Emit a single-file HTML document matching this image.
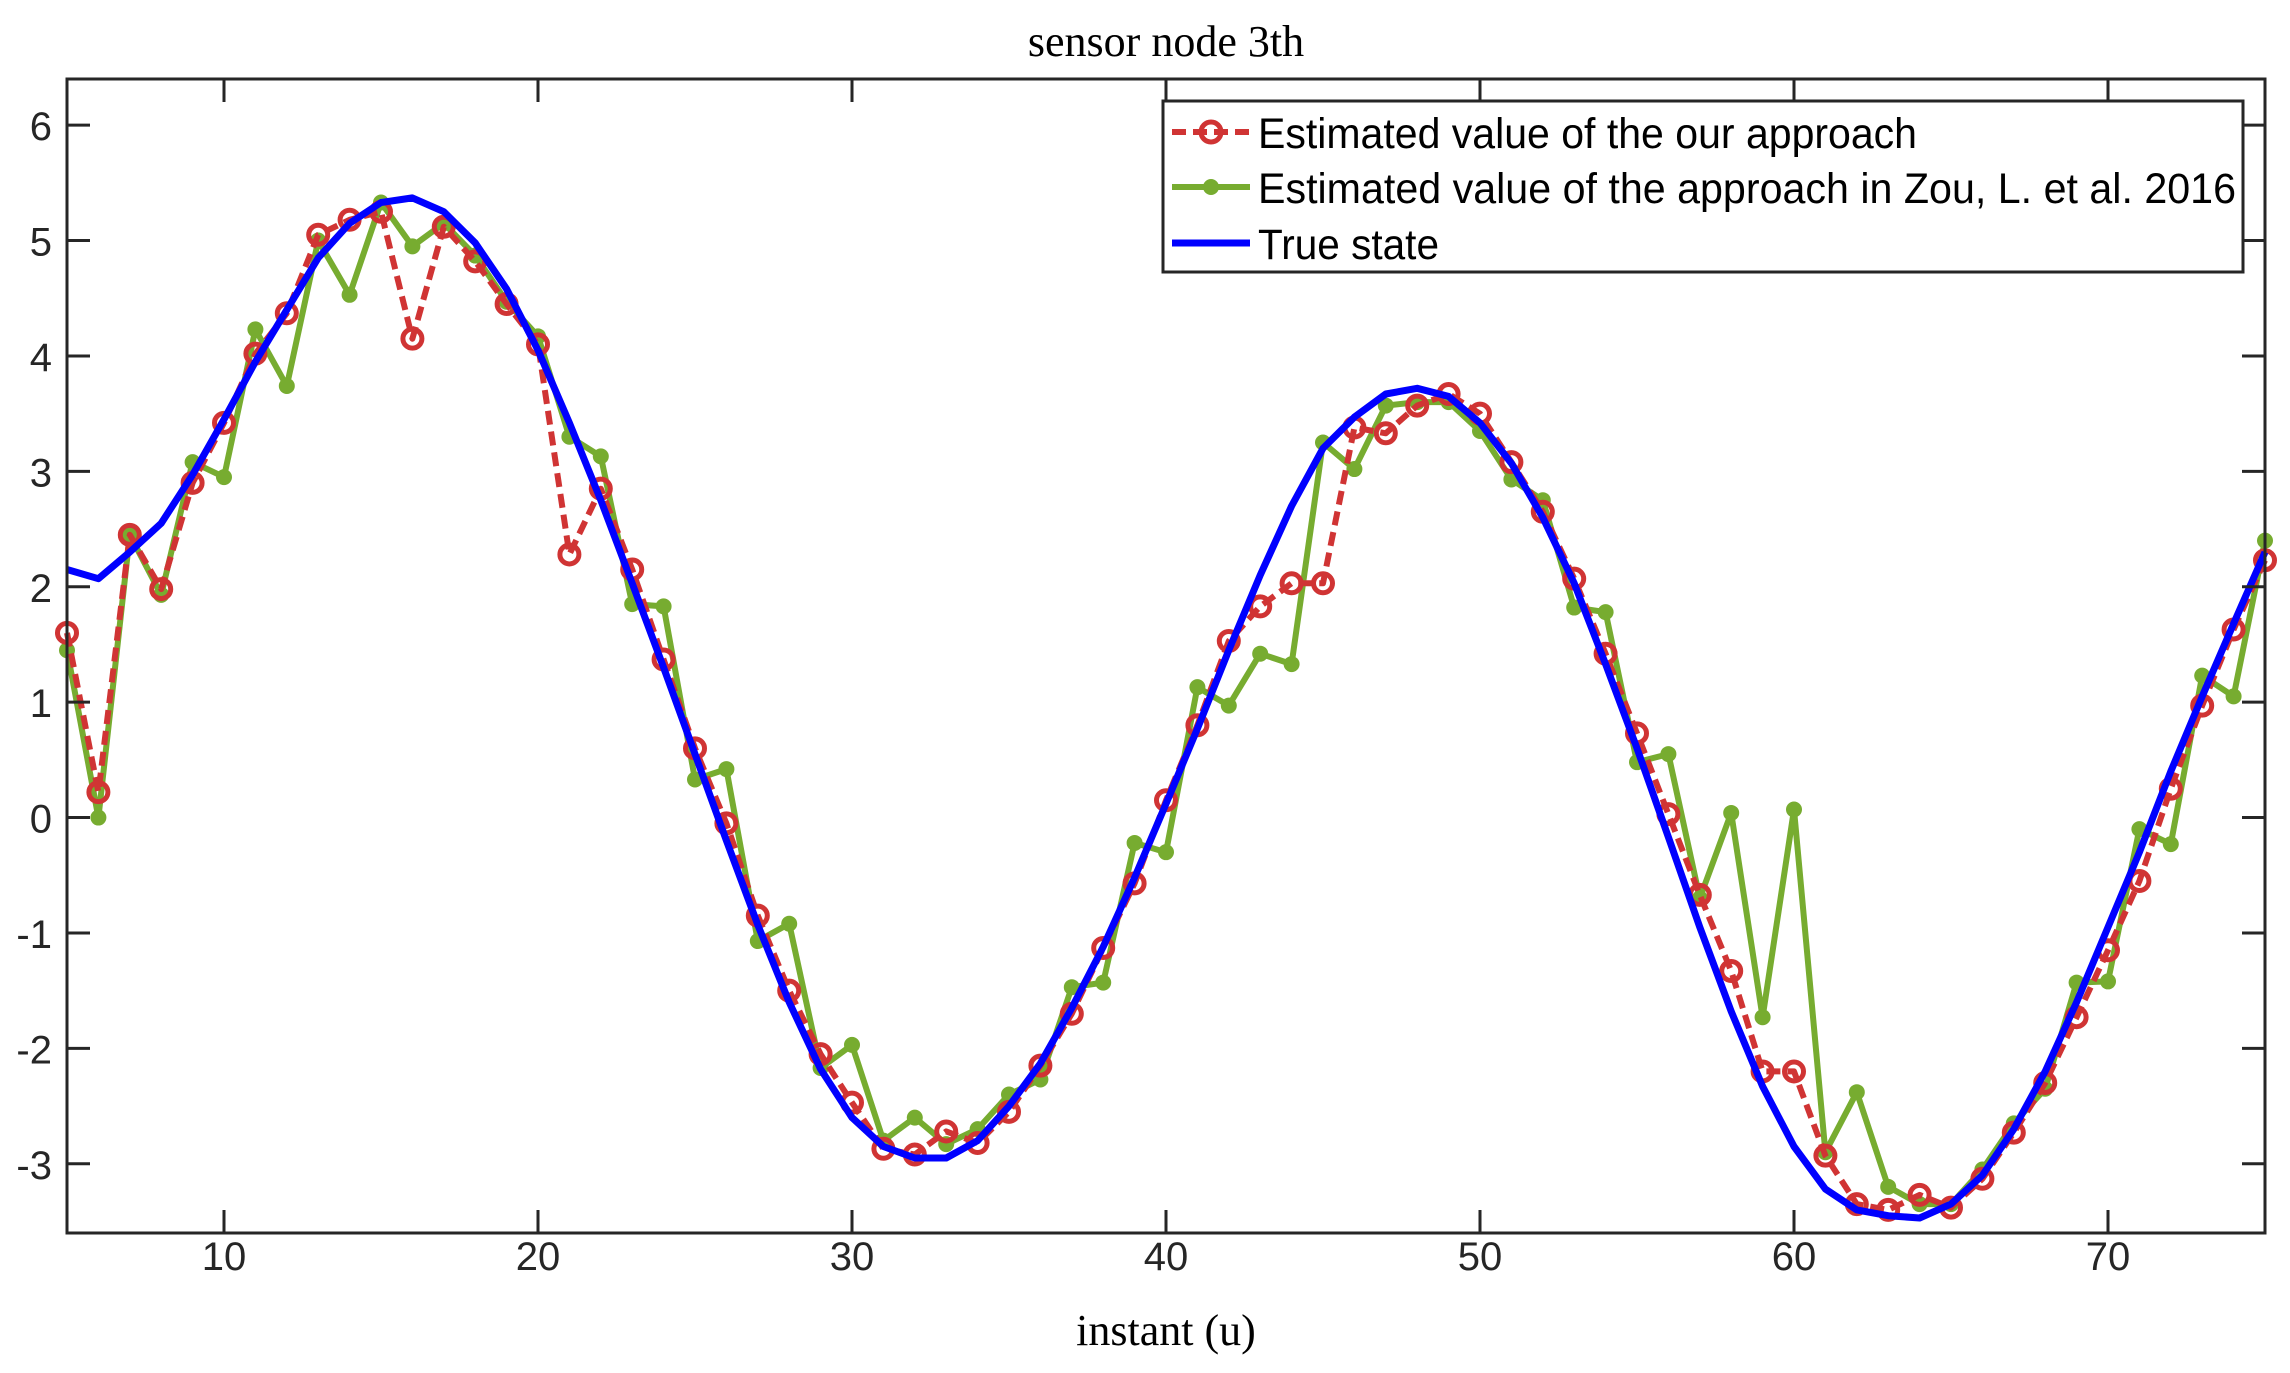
<!DOCTYPE html>
<html><head><meta charset="utf-8"><style>
html,body{margin:0;padding:0;background:#fff;}
svg{display:block;}
</style></head><body>
<svg id="chart" width="2290" height="1373" viewBox="0 0 2290 1373" xmlns="http://www.w3.org/2000/svg">
<rect width="2290" height="1373" fill="#fff"/>
<text x="1166" y="56" font-family="Liberation Serif, serif" font-size="44" text-anchor="middle" fill="#000">sensor node 3th</text>
<g id="grid"></g>
<g id="series"></g>
<rect x="67" y="79" width="2198" height="1154" fill="none" stroke="#262626" stroke-width="3"/>
<g id="axes"></g>
<text x="1166" y="1345" font-family="Liberation Serif, serif" font-size="44" text-anchor="middle" fill="#000">instant (u)</text>
<g>
<rect x="1163" y="101" width="1080" height="171" fill="#fff" stroke="#262626" stroke-width="3"/>
<g>
<line x1="1172" y1="132" x2="1250" y2="132" stroke="#d03434" stroke-width="6" stroke-dasharray="14,7"/>
<circle cx="1211" cy="132" r="10" fill="none" stroke="#d03434" stroke-width="5"/>
<text x="1258" y="148" font-family="Liberation Sans, sans-serif" font-size="43" textLength="659" lengthAdjust="spacingAndGlyphs" fill="#000">Estimated value of the our approach</text>
</g>
<g>
<line x1="1172" y1="187" x2="1250" y2="187" stroke="#77ac30" stroke-width="6"/>
<circle cx="1211" cy="187" r="8" fill="#77ac30"/>
<text x="1258" y="203" font-family="Liberation Sans, sans-serif" font-size="43" textLength="978" lengthAdjust="spacingAndGlyphs" fill="#000">Estimated value of the approach in Zou, L. et al. 2016</text>
</g>
<g>
<line x1="1172" y1="243" x2="1250" y2="243" stroke="#0000ff" stroke-width="7"/>
<text x="1258" y="259" font-family="Liberation Sans, sans-serif" font-size="43" textLength="181" lengthAdjust="spacingAndGlyphs" fill="#000">True state</text>
</g>
</g>
</svg>
<script>
const xStart = 5;
const ourValues = [1.6,0.22,2.45,1.98,2.9,3.42,4.02,4.37,5.05,5.18,5.25,4.15,5.12,4.82,4.45,4.1,2.28,2.85,2.15,1.37,0.6,-0.05,-0.85,-1.5,-2.05,-2.47,-2.87,-2.92,-2.72,-2.82,-2.55,-2.15,-1.7,-1.13,-0.57,0.15,0.8,1.53,1.83,2.03,2.03,3.38,3.33,3.57,3.67,3.5,3.08,2.65,2.07,1.42,0.73,0.03,-0.67,-1.33,-2.2,-2.2,-2.93,-3.35,-3.4,-3.27,-3.38,-3.13,-2.73,-2.3,-1.73,-1.15,-0.55,0.25,0.97,1.63,2.23];
const zouValues = [1.45,0.0,2.45,1.93,3.08,2.95,4.23,3.74,5.0,4.53,5.33,4.95,5.15,4.87,4.47,4.17,3.3,3.13,1.85,1.83,0.33,0.42,-1.07,-0.92,-2.17,-1.97,-2.8,-2.6,-2.83,-2.7,-2.4,-2.27,-1.47,-1.43,-0.22,-0.3,1.13,0.97,1.42,1.33,3.25,3.02,3.57,3.6,3.6,3.35,2.93,2.75,1.82,1.78,0.48,0.55,-0.7,0.04,-1.73,0.07,-2.9,-2.38,-3.2,-3.35,-3.35,-3.05,-2.65,-2.35,-1.43,-1.42,-0.1,-0.23,1.23,1.05,2.4];
const trueValues = [2.15,2.07,2.3,2.55,2.97,3.45,3.95,4.4,4.85,5.15,5.33,5.37,5.25,4.98,4.58,4.05,3.42,2.75,2.03,1.3,0.55,-0.2,-0.93,-1.6,-2.18,-2.6,-2.85,-2.95,-2.95,-2.8,-2.5,-2.13,-1.65,-1.12,-0.52,0.12,0.77,1.45,2.1,2.7,3.2,3.47,3.67,3.72,3.65,3.42,3.07,2.6,2.03,1.33,0.6,-0.17,-0.95,-1.68,-2.33,-2.85,-3.22,-3.4,-3.45,-3.47,-3.35,-3.1,-2.7,-2.2,-1.6,-0.95,-0.3,0.4,1.05,1.68,2.3];
const xTicks = [10,20,30,40,50,60,70];
const yTicks = [6,5,4,3,2,1,0,-1,-2,-3];

const X0=67, X1=2265, Y0=79, Y1=1233, xMin=5, xMax=75, yMin=-3.6, yMax=6.4;
function sx(v){return X0+(v-xMin)/(xMax-xMin)*(X1-X0);}
function sy(v){return Y0+(yMax-v)/(yMax-yMin)*(Y1-Y0);}
const NS="http://www.w3.org/2000/svg";
function mk(tag,attrs,parent){const e=document.createElementNS(NS,tag);for(const k in attrs)e.setAttribute(k,attrs[k]);parent.appendChild(e);return e;}
const axes=document.getElementById('axes'), series=document.getElementById('series');

xTicks.forEach(t=>{
  const x=sx(t);
  const a=mk('line',{x1:x,y1:Y1,x2:x,y2:Y1-23,stroke:'#262626','stroke-width':3},axes);
  
  
  const b=mk('line',{x1:x,y1:Y0,x2:x,y2:Y0+23,stroke:'#262626','stroke-width':3},axes);
  
  
  const l=mk('text',{x:x,y:1270,'font-family':'Liberation Sans, sans-serif','font-size':40,'text-anchor':'middle',fill:'#262626'},axes);
  l.textContent=t;
  
  
});
yTicks.forEach(t=>{
  const y=sy(t);
  const a=mk('line',{x1:X0,y1:y,x2:X0+23,y2:y,stroke:'#262626','stroke-width':3},axes);
  
  
  const b=mk('line',{x1:X1,y1:y,x2:X1-23,y2:y,stroke:'#262626','stroke-width':3},axes);
  
  
  const l=mk('text',{x:52,y:y+15,'font-family':'Liberation Sans, sans-serif','font-size':40,'text-anchor':'end',fill:'#262626'},axes);
  l.textContent=t;
  
  
});

function pts(vals){return vals.map((v,i)=>sx(xStart+i).toFixed(1)+','+sy(v).toFixed(1)).join(' ');}

const gz=mk('polyline',{points:pts(zouValues),fill:'none',stroke:'#77ac30','stroke-width':6,'stroke-linejoin':'round'},series);


zouValues.forEach((v,i)=>{
  const c=mk('circle',{cx:sx(xStart+i),cy:sy(v),r:8,fill:'#77ac30'},series);
  
  
});
const gr=mk('polyline',{points:pts(ourValues),fill:'none',stroke:'#d03434','stroke-width':6,'stroke-dasharray':'14,7','stroke-linejoin':'round'},series);


ourValues.forEach((v,i)=>{
  const c=mk('circle',{cx:sx(xStart+i),cy:sy(v),r:9.5,fill:'none',stroke:'#d03434','stroke-width':5},series);
  
  
});
const gb=mk('polyline',{points:pts(trueValues),fill:'none',stroke:'#0000ff','stroke-width':7,'stroke-linejoin':'round'},series);


</script>
</body></html>
